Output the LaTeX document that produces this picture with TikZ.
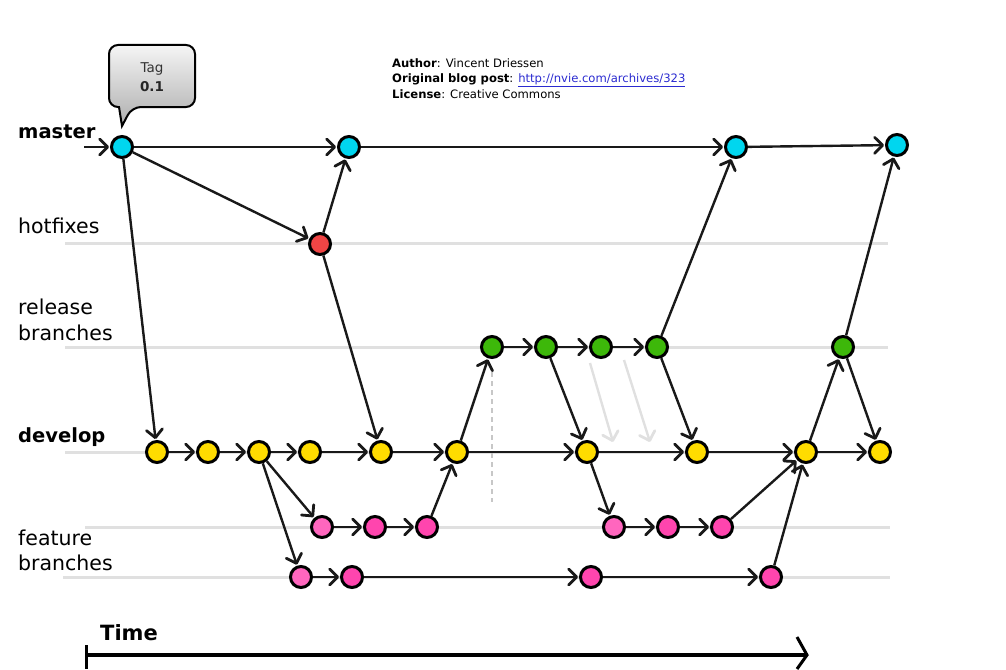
\documentclass[tikz,border=0pt]{standalone}
\usepackage{fontspec}
\setmainfont{DejaVu Sans}
\usetikzlibrary{arrows.meta,shadings}
\definecolor{cyanc}{HTML}{00D6EF}
\definecolor{redc}{HTML}{F04545}
\definecolor{greenc}{HTML}{3DB80A}
\definecolor{yellowc}{HTML}{FFDC00}
\definecolor{pinkc}{HTML}{FF45AE}
\definecolor{pinkl}{HTML}{FF66BE}
\definecolor{linkblue}{HTML}{2A2AD0}
\begin{document}
\begin{tikzpicture}[x=1pt,y=-1pt,
  commit/.style={circle,draw=black,line width=3pt,minimum size=21pt,inner sep=0pt},
  mst/.style={commit,fill=cyanc},
  hot/.style={commit,fill=redc},
  rel/.style={commit,fill=greenc},
  dev/.style={commit,fill=yellowc},
  feat/.style={commit,fill=pinkc},
  featl/.style={commit,fill=pinkl},
  flow/.style={draw=black!90,line width=2.4pt,shorten >=1pt,
     -{Straight Barb[length=8pt,width=16pt,line width=2.8pt,round]}},
  ghost/.style={draw=black!12,line width=2.4pt,
     -{Straight Barb[length=8pt,width=16pt,line width=2.8pt,round]}},
  lane/.style={draw=black!12,line width=3pt},
  lbl/.style={anchor=base west,inner sep=0pt,font=\fontsize{20.5}{22}\selectfont},
  lblb/.style={anchor=base west,inner sep=0pt,font=\fontsize{19.5}{22}\selectfont\bfseries},
  info/.style={anchor=base west,inner sep=0pt,font=\fontsize{11.6}{13}\selectfont},
]
\useasboundingbox (0,0) rectangle (1006,669);

% lanes
\coordinate (l1a) at (65,243); \coordinate (l1b) at (888,243);
\coordinate (l2a) at (65,347); \coordinate (l2b) at (888,347);
\coordinate (l3a) at (65,452); \coordinate (l3b) at (890,452);
\coordinate (l4a) at (85,527); \coordinate (l4b) at (890,527);
\coordinate (l5a) at (63,577); \coordinate (l5b) at (890,577);
\path[lane] (l1a) -- (l1b);
\path[lane] (l2a) -- (l2b);
\path[lane] (l3a) -- (l3b);
\path[lane] (l4a) -- (l4b);
\path[lane] (l5a) -- (l5b);

% labels
\node[lblb] (tmaster) at (18,138) {master};
\node[lbl] (thot) at (18,233) {hotfixes};
\node[lbl] (trel1) at (18,314) {release};
\node[lbl] (trel2) at (18,340) {branches};
\node[lblb] (tdev) at (18,442) {develop};
\node[lbl] (tfeat1) at (18,545) {feature};
\node[lbl] (tfeat2) at (18,570) {branches};

% info text
\node[info] (i1) at (392,67) {\textbf{Author}: Vincent Driessen};
\node[info] (i2) at (392,82) {\textbf{Original blog post}: \textcolor{linkblue}{\underline{http://nvie.com/archives/323}}};
\node[info] (i3) at (392,98) {\textbf{License}: Creative Commons};

% tag callout
\shade[top color=black!4,bottom color=black!32,draw=black,line width=2pt,rounded corners=9pt]
  (109,45) -- (195,45) -- (195,107) -- (132,107) [sharp corners] -- (122,126) -- (119,107) [rounded corners=9pt] -- (109,107) -- cycle;
\node[font=\fontsize{13.5}{15}\selectfont,text=black!80] (tag1) at (152,69) {Tag};
\node[font=\fontsize{13.5}{15}\selectfont\bfseries,text=black!85] (tag2) at (152,87) {0.1};

% dashed guide
\coordinate (dsa) at (492,372); \coordinate (dsb) at (492,502);
\draw[black!22,line width=1.6pt,dash pattern=on 5pt off 4pt] (dsa) -- (dsb);

% ghost arrows
\coordinate (ga1) at (590,363); \coordinate (gb1) at (613,442);
\coordinate (ga2) at (624,360); \coordinate (gb2) at (650,442);
\path[ghost] (ga1) -- (gb1);
\path[ghost] (ga2) -- (gb2);

% commits
\node[mst] (M1) at (122,147) {};
\node[mst] (M2) at (349,147) {};
\node[mst] (M3) at (736,147) {};
\node[mst] (M4) at (897,145) {};
\node[hot] (H1) at (320,244) {};
\node[rel] (R1) at (492,347) {};
\node[rel] (R2) at (546,347) {};
\node[rel] (R3) at (601,347) {};
\node[rel] (R4) at (657,347) {};
\node[rel] (R5) at (843,347) {};
\node[dev] (D1) at (157,452) {};
\node[dev] (D2) at (208,452) {};
\node[dev] (D3) at (259,452) {};
\node[dev] (D4) at (310,452) {};
\node[dev] (D5) at (381,452) {};
\node[dev] (D6) at (457,452) {};
\node[dev] (D7) at (587,452) {};
\node[dev] (D8) at (697,452) {};
\node[dev] (D9) at (806,452) {};
\node[dev] (D10) at (880,452) {};
\node[featl] (F1) at (322,527) {};
\node[feat] (F2) at (375,527) {};
\node[feat] (F3) at (427,527) {};
\node[featl] (F4) at (614,527) {};
\node[feat] (F5) at (668,527) {};
\node[feat] (F6) at (722,527) {};
\node[featl] (G1) at (301,577) {};
\node[feat] (G2) at (352,577) {};
\node[feat] (G3) at (591,577) {};
\node[feat] (G4) at (771,577) {};

% connectors
\coordinate (m0) at (84,147);
\path[flow] (m0) -- (M1);
\path[flow] (M1) -- (M2);
\path[flow] (M2) -- (M3);
\path[flow] (M3) -- (M4);
\path[flow] (M1) -- (H1);
\path[flow] (H1) -- (M2);
\path[flow] (H1) -- (D5);
\path[flow] (M1) -- (D1);
\path[flow] (D1) -- (D2);
\path[flow] (D2) -- (D3);
\path[flow] (D3) -- (D4);
\path[flow] (D4) -- (D5);
\path[flow] (D5) -- (D6);
\path[flow] (D6) -- (D7);
\path[flow] (D7) -- (D8);
\path[flow] (D8) -- (D9);
\path[flow] (D9) -- (D10);
\path[flow] (D3) -- (F1);
\path[flow] (D3) -- (G1);
\path[flow] (F1) -- (F2);
\path[flow] (F2) -- (F3);
\path[flow] (F3) -- (D6);
\path[flow] (D6) -- (R1);
\path[flow] (R1) -- (R2);
\path[flow] (R2) -- (R3);
\path[flow] (R3) -- (R4);
\path[flow] (R2) -- (D7);
\path[flow] (R4) -- (D8);
\path[flow] (R4) -- (M3);
\path[flow] (D7) -- (F4);
\path[flow] (F4) -- (F5);
\path[flow] (F5) -- (F6);
\path[flow] (F6) -- (D9);
\path[flow] (G1) -- (G2);
\path[flow] (G2) -- (G3);
\path[flow] (G3) -- (G4);
\path[flow] (G4) -- (D9);
\path[flow] (D9) -- (R5);
\path[flow] (R5) -- (M4);
\path[flow] (R5) -- (D10);

% time axis
\node[anchor=base west,inner sep=0pt,font=\fontsize{21}{22}\selectfont\bfseries] (ttime) at (100,640) {Time};
\coordinate (ta) at (86,645); \coordinate (tb) at (86,669);
\draw[line width=3pt] (ta) -- (tb);
\coordinate (tl) at (88,655); \coordinate (tr) at (807,655);
\draw[line width=3.8pt] (tl) -- (tr);
\coordinate (th1) at (797,637); \coordinate (th2) at (797,669);
\draw[line width=3pt,line join=miter] (th1) -- (tr) -- (th2);
\end{tikzpicture}
\end{document}
